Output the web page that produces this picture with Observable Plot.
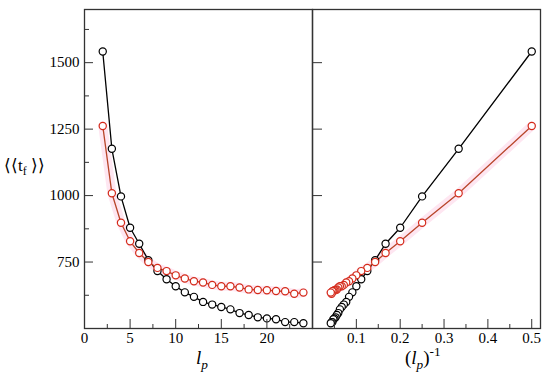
<!DOCTYPE html>
<html><head><meta charset="utf-8">
<script src="https://cdn.jsdelivr.net/npm/d3@7"></script>
<script src="https://cdn.jsdelivr.net/npm/@observablehq/plot@0.6"></script>
<style>
body{margin:0;background:#fff}
#c{position:relative;width:550px;height:387px}
#c svg{position:absolute;left:0;top:0;background:transparent}
.lab{position:absolute;color:#000;white-space:nowrap;line-height:1}
.lab sub{font-size:70%;vertical-align:-0.35em}
.lab sup{font-size:70%;vertical-align:0.6em}
</style></head><body><div id="c"></div>
<script>
const lp = [2,3,4,5,6,7,8,9,10,11,12,13,14,15,16,17,18,19,20,21,22,23,24];
const tBlack = [1542,1176,997,879,819,757,716,685,659,636,619,600,590,581,572,558,551,542,538,535,524,524,520];
const tRed = [1262,1009,898,828,784,750,728,716,700,688,678,673,664,659,659,654,647,645,644,641,640,631,635];
const yMajor = [750,1000,1250,1500];
const yMinor = [625,875,1125,1375,1625];
const xLeftMajor = [0,5,10,15,20];
const xLeftMinor = [2.5,7.5,12.5,17.5,22.5];
const xRightMajor = [0.1,0.2,0.3,0.4,0.5];
const xRightMinor = [0.05,0.15,0.25,0.35,0.45];

const black = lp.map((l,i)=>({lp:l, inv:1/l, t:tBlack[i]}));
const red = lp.map((l,i)=>({lp:l, inv:1/l, t:tRed[i]}));

const SERIF = "'Liberation Serif'";
const RED = "#d42a1a", REDLINE = "#b8452a", PINK = "#fee6f1";
const fmt = d => String(d);
const common = {
  width: 550, height: 387, marginTop: 9, marginBottom: 59,
  y: {domain: [500, 1700]},
  style: {fontSize: "15px", background: "transparent", overflow: "visible"}
};
function seriesMarks(xk){
  return [
    Plot.line(red, {x: xk, y: "t", stroke: PINK, strokeWidth: 9}),
    Plot.line(black, {x: xk, y: "t", stroke: "#000", strokeWidth: 1.3}),
    Plot.line(red, {x: xk, y: "t", stroke: REDLINE, strokeWidth: 1.3}),
    Plot.dot(black, {x: xk, y: "t", r: 3.6, stroke: "#000", fill: "#fff", strokeWidth: 1.2}),
    Plot.dot(red, {x: xk, y: "t", r: 3.6, stroke: RED, fill: "#fff", strokeWidth: 1.2})
  ];
}
const left = Plot.plot({
  ...common,
  marginLeft: 84, marginRight: 238,
  x: {domain: [0, 25]},
  marks: [
    ...seriesMarks("lp"),
    Plot.frame({stroke: "#333", strokeWidth: 1.3}),
    Plot.axisY(yMajor, {anchor: "left", tickSize: -9, tickPadding: 14, tickFormat: fmt, label: null, stroke: "#333"}),
    Plot.axisY(yMinor, {anchor: "left", tickSize: -5, text: null, label: null, stroke: "#333"}),
    Plot.axisX(xLeftMajor, {anchor: "bottom", tickSize: -9, tickPadding: 13, tickFormat: fmt, label: null, stroke: "#333"}),
    Plot.axisX(xLeftMinor, {anchor: "bottom", tickSize: -4, text: null, label: null, stroke: "#333"})
  ]
});
const right = Plot.plot({
  ...common,
  marginLeft: 312, marginRight: 10,
  x: {domain: [0, 0.52]},
  marks: [
    ...seriesMarks("inv"),
    Plot.frame({stroke: "#333", strokeWidth: 1.3}),
    Plot.axisY(yMajor, {anchor: "left", tickSize: -10, text: null, label: null, stroke: "#333"}),
    Plot.axisX(xRightMajor, {anchor: "bottom", tickSize: -9, tickPadding: 13, tickFormat: fmt, label: null, stroke: "#333"}),
    Plot.axisX(xRightMinor, {anchor: "bottom", tickSize: -4, text: null, label: null, stroke: "#333"})
  ]
});
const c = document.getElementById("c");
c.appendChild(left);
c.appendChild(right);
function lab(html, x, y, size){
  const d = document.createElement("div");
  d.className = "lab"; d.innerHTML = html;
  d.style.left = x + "px"; d.style.top = y + "px"; d.style.fontSize = size + "px";
  c.appendChild(d);
}
lab("⟨⟨t<sub>f</sub> ⟩⟩", 4, 157, 17);
lab("<i>l</i><sub><i>p</i></sub>", 196, 348, 19);
lab("(<i>l</i><sub><i>p</i></sub>)<sup>-1</sup>", 405, 345, 19);
c.querySelectorAll("svg, svg text, svg g, .lab, .lab *").forEach(e => e.style.setProperty("font-family", SERIF, "important"));
</script></body></html>
